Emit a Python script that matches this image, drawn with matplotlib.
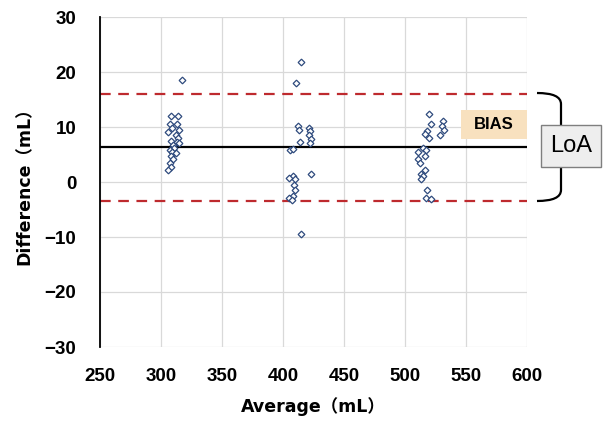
import matplotlib
matplotlib.use("Agg")
import matplotlib.pyplot as plt
from matplotlib.patches import Rectangle, PathPatch
from matplotlib.path import Path

plt.rcParams['font.family'] = ['DejaVu Sans', 'Noto Sans CJK JP']

# ---- data ----
avg_300 = [317, 308, 314, 307, 313, 309, 315, 306, 312, 314, 308, 313, 310, 315, 311, 307, 309, 312, 308, 310, 307, 308, 306]
diff_300 = [18.5, 12.0, 12.0, 10.5, 10.5, 9.8, 9.5, 9.0, 8.5, 8.0, 7.5, 7.2, 6.8, 7.0, 6.2, 5.8, 5.5, 5.2, 4.8, 4.2, 3.5, 2.8, 2.2]

avg_400 = [415, 411, 412, 413, 421, 422, 421, 423, 414, 422, 406, 408, 423, 408, 410, 405, 409, 410, 408, 405, 407, 415]
diff_400 = [21.8, 18.0, 10.2, 9.4, 9.8, 9.2, 8.6, 7.8, 7.2, 7.0, 5.8, 6.0, 1.5, 1.0, 0.5, 0.8, -0.5, -1.5, -2.5, -3.0, -3.3, -9.5]

avg_500 = [520, 531, 521, 530, 532, 518, 516, 529, 520, 515, 517, 511, 516, 511, 512, 516, 513, 515, 513, 518, 517, 521]
diff_500 = [12.4, 11.0, 10.5, 10.2, 9.5, 9.2, 8.8, 8.6, 8.0, 6.2, 5.8, 5.5, 4.8, 4.2, 3.5, 2.2, 1.5, 1.0, 0.5, -1.5, -3.0, -3.1]

bias = 6.4
loa_upper = 16.0
loa_lower = -3.4

x_ticks = [250, 300, 350, 400, 450, 500, 550, 600]
y_ticks = [-30, -20, -10, 0, 10, 20, 30]
x_label = "Average（mL）"
y_label = "Difference（mL）"
bias_text = "BIAS"
loa_text = "LoA"

W, H = 606, 423
fig = plt.figure(figsize=(W / 100, H / 100), dpi=100)
ax = fig.add_axes([100 / W, 1 - 347 / H, 427 / W, 330 / H])

ax.set_xlim(x_ticks[0], x_ticks[-1])
ax.set_ylim(y_ticks[0], y_ticks[-1])
ax.set_xticks(x_ticks)
ax.set_yticks(y_ticks)
ax.grid(True, color='#D9D9D9', lw=0.9)
ax.set_axisbelow(True)
for s in ['top', 'right', 'bottom']:
    ax.spines[s].set_visible(False)
ax.spines['left'].set_color('black')
ax.spines['left'].set_linewidth(1.3)
ax.tick_params(length=0)
ax.tick_params(axis='x', pad=15)
ax.tick_params(axis='y', pad=17)
for lab in ax.get_xticklabels() + ax.get_yticklabels():
    lab.set_fontfamily(['Liberation Sans', 'DejaVu Sans'])
    lab.set_fontweight('bold')
    lab.set_fontsize(13.5)

red = '#BE2A2E'
ax.axhline(loa_upper, color=red, lw=1.6, dashes=(4.8, 3.4), zorder=2)
ax.axhline(loa_lower, color=red, lw=1.6, dashes=(4.8, 3.4), zorder=2)
ax.axhline(bias, color='black', lw=1.6, zorder=2)

mk = dict(marker='D', ls='none', ms=3.4, mfc='white', mec='#2E4A7D', mew=0.9, zorder=3)
ax.plot(avg_300, diff_300, **mk)
ax.plot(avg_400, diff_400, **mk)
ax.plot(avg_500, diff_500, **mk)

ax.set_xlabel(x_label, fontsize=12.5, fontweight='bold', labelpad=9,
              family=['DejaVu Sans', 'Noto Sans CJK JP'])
ax.set_ylabel(y_label, fontsize=12.5, fontweight='bold', labelpad=8,
              family=['DejaVu Sans', 'Noto Sans CJK JP'])

def fx(px):
    return px / W
def fy(py):
    return 1 - py / H

# BIAS box
fig.patches.append(Rectangle((fx(461), fy(139)), 66 / W, 29 / H, transform=fig.transFigure,
                             facecolor='#F8E1BF', edgecolor='none', zorder=5))
fig.text(fx(494), fy(124.5), bias_text, ha='center', va='center', fontsize=12,
         fontweight='bold', family=['Liberation Sans', 'DejaVu Sans'], zorder=6)

# brace
y_top, y_bot, y_mid = fy(93), fy(201), fy(147)
xl, xr, xt = fx(537), fx(561), fx(568)
verts = [(xl, y_top), (xr, y_top), (xr, fy(104)), (xr, fy(140)), (xr, y_mid), (xt, y_mid)]
codes = [Path.MOVETO, Path.CURVE3, Path.CURVE3, Path.LINETO, Path.CURVE3, Path.CURVE3]
verts2 = [(xt, y_mid), (xr, y_mid), (xr, fy(154)), (xr, fy(190)), (xr, y_bot), (xl, y_bot)]
codes2 = [Path.MOVETO, Path.CURVE3, Path.CURVE3, Path.LINETO, Path.CURVE3, Path.CURVE3]
for v, c in [(verts, codes), (verts2, codes2)]:
    fig.patches.append(PathPatch(Path(v, c), transform=fig.transFigure, facecolor='none',
                                 edgecolor='black', lw=1.6, zorder=5))

# LoA box
fig.patches.append(Rectangle((fx(541), fy(167)), 60 / W, 42 / H, transform=fig.transFigure,
                             facecolor='#EEEEEE', edgecolor='#7F7F7F', lw=1.0, zorder=7))
fig.text(fx(571), fy(146), loa_text, ha='center', va='center', fontsize=17,
         family=['Liberation Sans', 'DejaVu Sans'], zorder=8)

fig.savefig('out.png', dpi=100)
